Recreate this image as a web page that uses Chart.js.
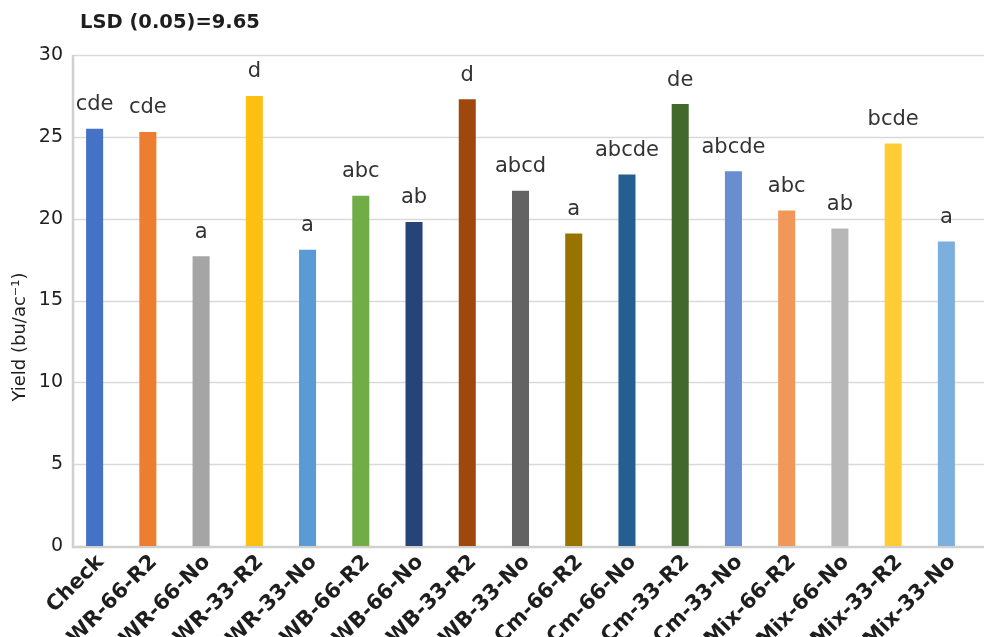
<!DOCTYPE html>
<html>
<head>
<meta charset="utf-8">
<script src="https://cdn.jsdelivr.net/npm/chart.js@4.4.1/dist/chart.umd.min.js"></script>
<style>
  html, body { margin: 0; padding: 0; background: #ffffff; }
  #wrap { width: 984px; height: 637px; position: relative; }
</style>
</head>
<body>
<div id="wrap"><canvas id="chart"></canvas></div>
<script>
// Treatments, mean yields and mean-separation letters
const categories = ["Check", "WR-66-R2", "WR-66-No", "WR-33-R2", "WR-33-No", "WB-66-R2", "WB-66-No",
  "WB-33-R2", "WB-33-No", "Cm-66-R2", "Cm-66-No", "Cm-33-R2", "Cm-33-No", "Mix-66-R2", "Mix-66-No",
  "Mix-33-R2", "Mix-33-No"];
const yieldValues = [25.5, 25.3, 17.7, 27.5, 18.1, 21.4, 19.8, 27.3, 21.7, 19.1, 22.7, 27.0, 22.9, 20.5, 19.4, 24.6, 18.6];
const letterGroups = ["cde", "cde", "a", "d", "a", "abc", "ab", "d", "abcd", "a", "abcde", "de", "abcde", "abc", "ab", "bcde", "a"];
const barColors = ["#4472C4", "#ED7D31", "#A5A5A5", "#FCBF12", "#5B9BD5", "#70AD47", "#264478", "#9E480E",
  "#636363", "#997300", "#255E91", "#43682B", "#698ED0", "#F1975A", "#B7B7B7", "#FFCD33", "#7CAFDD"];
const yAxisTicks = [0, 5, 10, 15, 20, 25, 30];
const titleText = "LSD (0.05)=9.65";
const yAxisTitle = "Yield (bu/ac\u207B\u00B9)";

const FONT = "'DejaVu Sans', sans-serif";

// Gridlines, axis lines, title and axis title
const framePlugin = {
  id: "frame",
  beforeDatasetsDraw(chart) {
    const { ctx, chartArea } = chart;
    const y = chart.scales.y;
    const axisX = chartArea.left + 5;
    const rightX = chart.width;
    ctx.save();
    ctx.strokeStyle = "#d9d9d9";
    ctx.lineWidth = 1.5;
    yAxisTicks.forEach(v => {
      if (v === 0) return;
      const py = Math.round(y.getPixelForValue(v)) + 0.5;
      ctx.beginPath();
      ctx.moveTo(axisX, py);
      ctx.lineTo(rightX, py);
      ctx.stroke();
    });
    ctx.strokeStyle = "#d0d0d0";
    ctx.lineWidth = 2.5;
    const y0 = y.getPixelForValue(0);
    const yTop = y.getPixelForValue(30);
    ctx.beginPath();
    ctx.moveTo(axisX, yTop);
    ctx.lineTo(axisX, y0 + 1);
    ctx.lineTo(rightX, y0 + 1);
    ctx.stroke();
    ctx.restore();
  },
  afterDraw(chart) {
    const { ctx } = chart;
    ctx.save();
    ctx.fillStyle = "#1e1e1e";
    ctx.font = "bold 19.5px " + FONT;
    ctx.textAlign = "left";
    ctx.textBaseline = "middle";
    ctx.fillText(titleText, 80, 23);

    ctx.font = "18px " + FONT;
    ctx.translate(20, 337);
    ctx.rotate(-Math.PI / 2);
    ctx.textAlign = "center";
    ctx.fillText(yAxisTitle, 0, 0);
    ctx.restore();
  }
};

// Mean-separation letters above each bar
const letterPlugin = {
  id: "letters",
  afterDatasetsDraw(chart) {
    const { ctx } = chart;
    const meta = chart.getDatasetMeta(0);
    ctx.save();
    ctx.fillStyle = "#333333";
    ctx.font = "21px " + FONT;
    ctx.textAlign = "center";
    ctx.textBaseline = "middle";
    meta.data.forEach((bar, i) => {
      ctx.fillText(letterGroups[i], bar.x, bar.y - 24);
    });
    ctx.restore();
  }
};

new Chart(document.getElementById("chart"), {
  type: "bar",
  data: {
    labels: categories,
    datasets: [{
      data: yieldValues,
      backgroundColor: barColors,
      borderWidth: 0,
      barPercentage: 0.32,
      categoryPercentage: 1.0
    }]
  },
  options: {
    responsive: true,
    maintainAspectRatio: false,
    animation: false,
    devicePixelRatio: 1,
    layout: { padding: { top: 55, right: 11, left: 0, bottom: 0 } },
    plugins: {
      legend: { display: false },
      tooltip: { enabled: false },
      title: { display: false }
    },
    scales: {
      x: {
        grid: { display: false, drawTicks: false },
        border: { display: false },
        ticks: {
          color: "#1e1e1e",
          font: { family: FONT, size: 21, weight: "bold" },
          minRotation: 45,
          maxRotation: 45,
          autoSkip: false,
          padding: 4,
          labelOffset: 6
        },
        afterFit(scale) { scale.height = 91; }
      },
      y: {
        min: 0,
        max: 30,
        grid: { display: false, drawTicks: false },
        border: { display: false },
        ticks: {
          stepSize: 5,
          color: "#1e1e1e",
          font: { family: FONT, size: 19 },
          padding: 5
        },
        afterFit(scale) { scale.width = 68; }
      }
    }
  },
  plugins: [framePlugin, letterPlugin]
});
</script>
</body>
</html>
